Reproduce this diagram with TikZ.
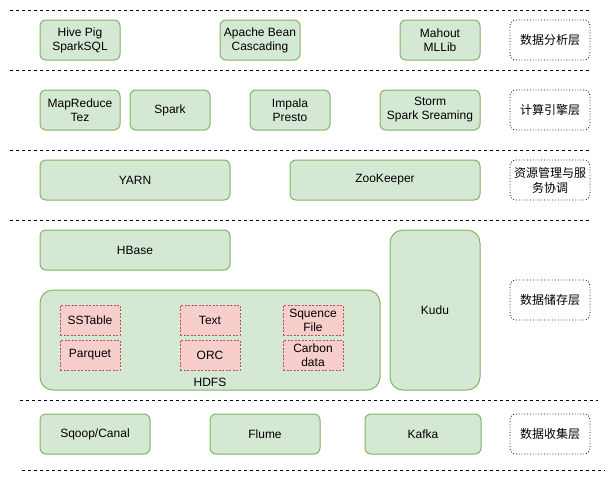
\documentclass[tikz,border=0pt]{standalone}
\usepackage{fontspec}
\setmainfont{Liberation Sans}
\newfontfamily\cjk{Noto Sans CJK SC}
\usetikzlibrary{calc}

\definecolor{gfill}{HTML}{D5E8D4}
\definecolor{gline}{HTML}{82B366}
\definecolor{pfill}{HTML}{F8CECC}
\definecolor{pline}{HTML}{B85450}

\begin{document}
\begin{tikzpicture}[x=1pt, y=-1pt,
  every node/.style={font=\fontsize{12}{14}\selectfont, align=center, inner sep=0pt},
  greenbox/.style={draw=gline, fill=gfill, line width=1pt, rounded corners=6pt},
  bigbox/.style={draw=gline, fill=gfill, line width=1pt, rounded corners=13pt},
  pinkbox/.style={draw=pline, fill=pfill, line width=0.6pt, dash pattern=on 2pt off 1.5pt, minimum width=60pt, minimum height=30pt},
  layerbox/.style={draw=black, line width=0.8pt, dotted, rounded corners=6pt, minimum width=80pt, minimum height=40pt, font=\cjk\fontsize{12}{15}\selectfont},
  sepline/.style={line width=0.8pt, dash pattern=on 3pt off 3pt}]
  \useasboundingbox (0,0) rectangle (615,482);

  % separators
  \draw[sepline] (10,10) -- (590,10);
  \draw[sepline] (10,70) -- (590,70);
  \draw[sepline] (10,150) -- (590,150);
  \draw[sepline] (10,220) -- (590,220);
  \draw[sepline] (20,400) -- (598,400);
  \draw[sepline] (22,470) -- (605,470);

  % analysis layer
  \node[greenbox, minimum width=80pt, minimum height=40pt] (hive) at (80,40) {Hive Pig\\SparkSQL};
  \node[greenbox, minimum width=80pt, minimum height=40pt] (bean) at (260,40) {Apache Bean\\Cascading};
  \node[greenbox, minimum width=80pt, minimum height=40pt] (mahout) at (440,40) {Mahout\\MLLib};
  \node[layerbox] (analysis) at (550,40) {数据分析层};

  % compute layer
  \node[greenbox, minimum width=80pt, minimum height=40pt] (mapreduce) at (80,110) {MapReduce\\Tez};
  \node[greenbox, minimum width=80pt, minimum height=40pt] (spark) at (170,110) {Spark};
  \node[greenbox, minimum width=80pt, minimum height=40pt] (impala) at (290,110) {Impala\\Presto};
  \node[greenbox, minimum width=100pt, minimum height=40pt] (storm) at (430,110) {Storm\\Spark Sreaming};
  \node[layerbox] (compute) at (550,110) {计算引擎层};

  % resource layer
  \node[greenbox, minimum width=190pt, minimum height=40pt] (yarn) at (135,180) {YARN};
  \node[greenbox, minimum width=190pt, minimum height=40pt] (zk) at (385,180) {ZooKeeper};
  \node[layerbox] (resource) at (550,180) {资源管理与服\\务协调};

  % storage layer
  \node[greenbox, minimum width=190pt, minimum height=40pt] (hbase) at (135,250) {HBase};
  \node[bigbox, minimum width=340pt, minimum height=100pt] (hdfs) at (210,340) {};
  \node (hdfslabel) at (210,382) {HDFS};
  \node[bigbox, minimum width=90pt, minimum height=160pt] (kudu) at (435,310) {Kudu};
  \node[pinkbox] (sstable) at (90,320) {SSTable};
  \node[pinkbox] (parquet) at (90,355) {Parquet};
  \node[pinkbox] (text) at (210,320) {Text};
  \node[pinkbox] (orc) at (210,355) {ORC};
  \node[pinkbox] (seqfile) at (313,320) {Squence\\File};
  \node[pinkbox] (carbon) at (313,355) {Carbon\\data};
  \node[layerbox] (storage) at (550,300) {数据储存层};

  % collection layer
  \node[greenbox, minimum width=110pt, minimum height=40pt] (sqoop) at (95,434) {Sqoop/Canal};
  \node[greenbox, minimum width=110pt, minimum height=40pt] (flume) at (265,434) {Flume};
  \node[greenbox, minimum width=116pt, minimum height=40pt] (kafka) at (423,434) {Kafka};
  \node[layerbox] (collect) at (550,434) {数据收集层};
\end{tikzpicture}
\end{document}
